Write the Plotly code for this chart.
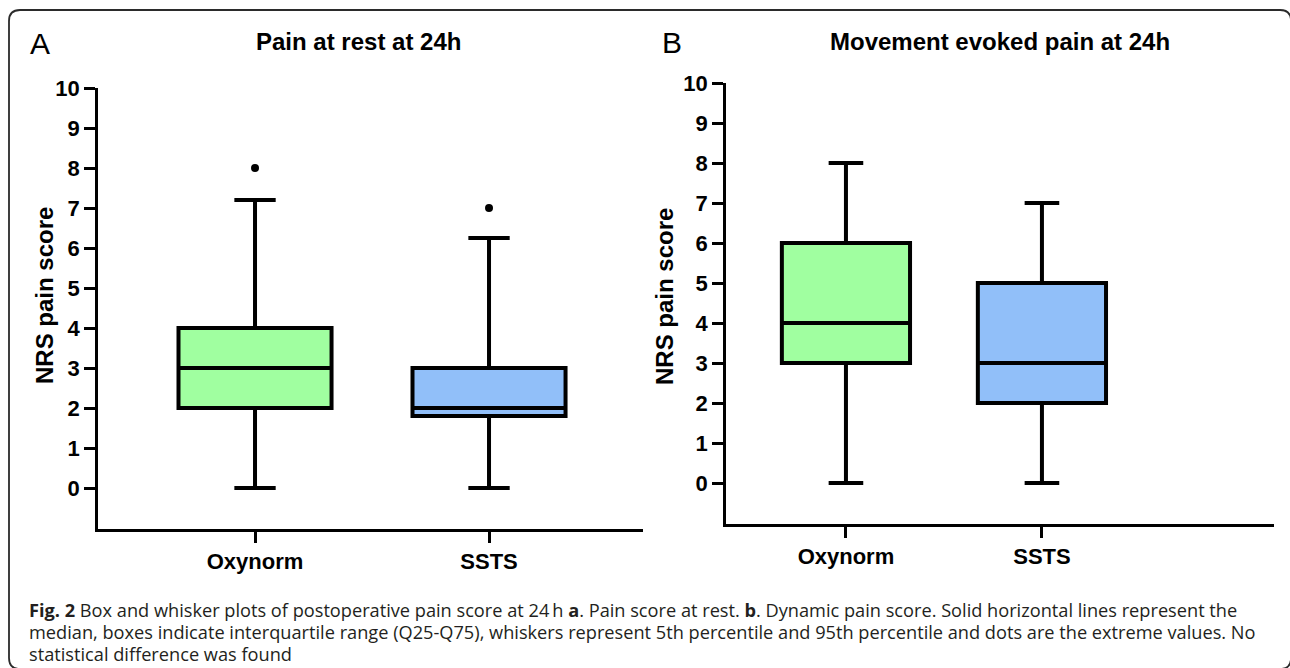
import plotly.graph_objects as go

W, H = 1290, 668

groups = ["Oxynorm", "SSTS"]
colors = ["#A0FFA0", "#91BFF9"]

# Panel A: pain at rest at 24h
rest_lower = [0, 0]
rest_q1 = [2, 1.8]
rest_median = [3, 2]
rest_q3 = [4, 3]
rest_upper = [7.2, 6.25]
rest_outliers = [8, 7]

# Panel B: movement evoked pain at 24h
move_lower = [0, 0]
move_q1 = [3, 2]
move_median = [4, 3]
move_q3 = [6, 5]
move_upper = [8, 7]

y_ticks = list(range(0, 11))

caption_lines = [
    "<b>Fig. 2</b> Box and whisker plots of postoperative pain score at 24\u2009h <b>a</b>. Pain score at rest. <b>b</b>. Dynamic pain score. Solid horizontal lines represent the",
    "median, boxes indicate interquartile range (Q25-Q75), whiskers represent 5th percentile and 95th percentile and dots are the extreme values. No",
    "statistical difference was found",
]


def px(x):
    return x / W


def py(y):
    return 1 - y / H


fig = go.Figure()

positions = [0, 1]
for i, g in enumerate(groups):
    fig.add_trace(go.Box(
        x=[positions[i]], q1=[rest_q1[i]], median=[rest_median[i]], q3=[rest_q3[i]],
        lowerfence=[rest_lower[i]], upperfence=[rest_upper[i]],
        fillcolor=colors[i], line=dict(color="black", width=4),
        width=0.654, whiskerwidth=0.27, boxpoints=False, showlegend=False,
        xaxis="x", yaxis="y", name=g, hoverinfo="skip",
    ))
    fig.add_trace(go.Box(
        x=[positions[i]], q1=[move_q1[i]], median=[move_median[i]], q3=[move_q3[i]],
        lowerfence=[move_lower[i]], upperfence=[move_upper[i]],
        fillcolor=colors[i], line=dict(color="black", width=4),
        width=0.654, whiskerwidth=0.27, boxpoints=False, showlegend=False,
        xaxis="x2", yaxis="y2", name=g, hoverinfo="skip",
    ))

fig.add_trace(go.Scatter(
    x=positions, y=rest_outliers, mode="markers",
    marker=dict(color="black", size=8), showlegend=False,
    xaxis="x", yaxis="y", hoverinfo="skip",
))

tickfont = dict(family="Liberation Sans, Arial, sans-serif", size=22, color="black")

xcommon = dict(
    tickmode="array", tickvals=positions, ticktext=["<b>%s</b>" % g for g in groups],
    showline=True, linecolor="black", linewidth=2.5, ticks="outside", ticklen=11,
    tickwidth=2.5, tickcolor="black", showgrid=False, zeroline=False,
    tickfont=tickfont, automargin=False,
)
ycommon = dict(
    tickmode="array", tickvals=y_ticks, ticktext=["<b>%d</b>" % v for v in y_ticks],
    showline=True, linecolor="black", linewidth=2.5, ticks="outside", ticklen=11,
    tickwidth=2.5, tickcolor="black", showgrid=False, zeroline=False,
    tickfont=tickfont, range=[-1.025, 10], automargin=False,
)

fig.update_layout(
    width=W, height=H,
    margin=dict(l=0, r=0, t=0, b=0, pad=0, autoexpand=False),
    paper_bgcolor="white", plot_bgcolor="white",
    xaxis=dict(domain=[px(98), px(643)], range=[-0.671, 1.658], anchor="y", **xcommon),
    yaxis=dict(domain=[py(529), py(88)], anchor="x", **ycommon),
    xaxis2=dict(domain=[px(726), px(1274)], range=[-0.612, 2.184], anchor="y2", **xcommon),
    yaxis2=dict(domain=[py(524), py(83)], anchor="x2", **ycommon),
)

annotations = []
bold_font = dict(family="Liberation Sans, Arial, sans-serif", color="black")
annotations.append(dict(text="A", x=px(40), y=py(44), xref="paper", yref="paper",
                        showarrow=False, xanchor="center", yanchor="middle",
                        font=dict(family="Liberation Sans, Arial, sans-serif", size=30, color="black")))
annotations.append(dict(text="B", x=px(672), y=py(43), xref="paper", yref="paper",
                        showarrow=False, xanchor="center", yanchor="middle",
                        font=dict(family="Liberation Sans, Arial, sans-serif", size=30, color="black")))
annotations.append(dict(text="<b>Pain at rest at 24h</b>", x=px(254), y=py(41), xref="paper", yref="paper",
                        showarrow=False, xanchor="left", yanchor="middle", font=dict(size=24, **bold_font)))
annotations.append(dict(text="<b>Movement evoked pain at 24h</b>", x=px(1000), y=py(41), xref="paper", yref="paper",
                        showarrow=False, xanchor="center", yanchor="middle", font=dict(size=24, **bold_font)))
annotations.append(dict(text="<b>NRS pain score</b>", x=px(45), y=py(296), xref="paper", yref="paper",
                        showarrow=False, xanchor="center", yanchor="middle", textangle=-90,
                        font=dict(size=24, **bold_font)))
annotations.append(dict(text="<b>NRS pain score</b>", x=px(665), y=py(297), xref="paper", yref="paper",
                        showarrow=False, xanchor="center", yanchor="middle", textangle=-90,
                        font=dict(size=24, **bold_font)))

cap_y = [610, 632, 654]
for line, yy in zip(caption_lines, cap_y):
    annotations.append(dict(text=line, x=px(27), y=py(yy), xref="paper", yref="paper",
                            showarrow=False, xanchor="left", yanchor="middle", align="left",
                            font=dict(family="Open Sans, Noto Sans, sans-serif", size=18.2, color="#231f20")))

fig.update_layout(annotations=annotations)

# rounded figure frame (right and bottom edges fall just outside the picture)
x0, y0, x1, y1, r = 9, 10, 1291, 669, 11
path = (f"M {px(x0)},{py(y1 - r)} L {px(x0)},{py(y0 + r)} "
        f"Q {px(x0)},{py(y0)} {px(x0 + r)},{py(y0)} "
        f"L {px(x1 - r)},{py(y0)} Q {px(x1)},{py(y0)} {px(x1)},{py(y0 + r)} "
        f"L {px(x1)},{py(y1 - r)} Q {px(x1)},{py(y1)} {px(x1 - r)},{py(y1)} "
        f"L {px(x0 + r)},{py(y1)} Q {px(x0)},{py(y1)} {px(x0)},{py(y1 - r)}")
fig.add_shape(type="path", path=path, xref="paper", yref="paper",
              line=dict(color="#2b2b2b", width=1.8))

post_js = (
    "document.documentElement.style.margin='0px';"
    "document.documentElement.style.overflow='hidden';"
    "document.body.style.margin='0px';document.body.style.padding='0px';"
    "document.body.style.overflow='hidden';"
    "var gd=document.getElementsByClassName('plotly-graph-div')[0];"
    "gd.style.position='fixed';gd.style.left='0px';gd.style.top='0px';"
)

fig.write_html(
    "out.html",
    config={"displayModeBar": False},
    post_script=post_js,
)
